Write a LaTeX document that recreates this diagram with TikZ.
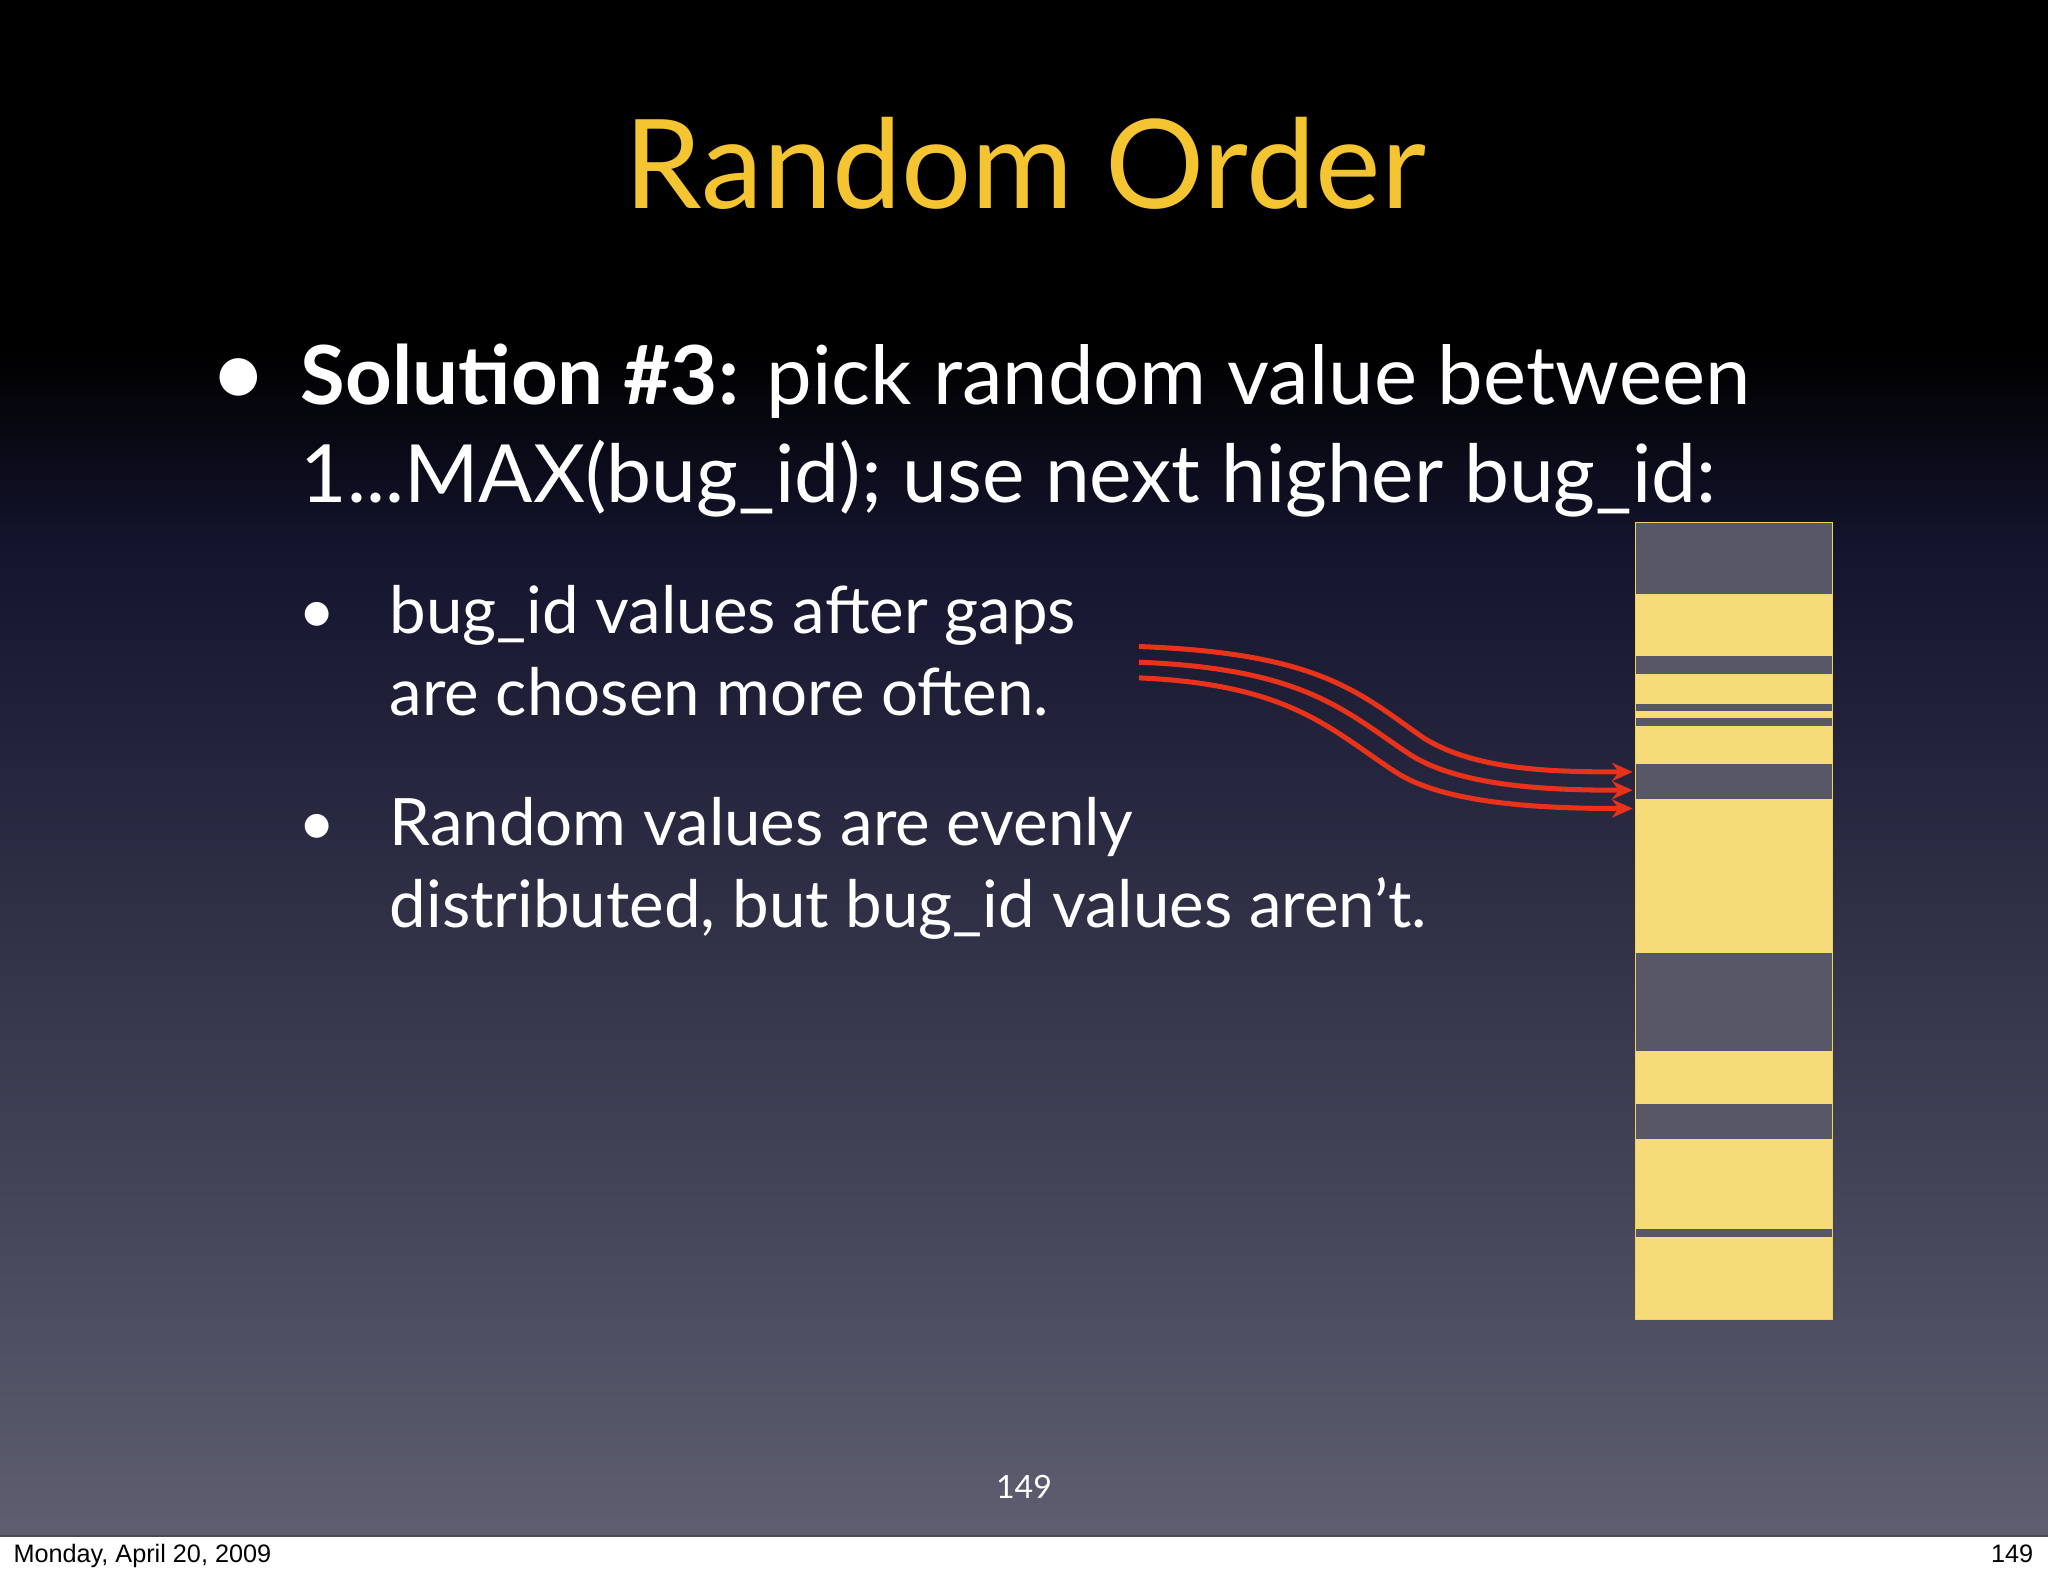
\documentclass[tikz,border=0pt]{standalone}
\usepackage{fontspec}
\setmainfont{Lato}
\newfontfamily\footfont{Liberation Sans}
\usetikzlibrary{arrows.meta}
\definecolor{ttl}{HTML}{F5C431}
\definecolor{barY}{HTML}{F5DC78}
\definecolor{barG}{HTML}{575766}
\definecolor{bgB}{HTML}{5E5E70}
\definecolor{bgM}{HTML}{14142E}
\definecolor{arr}{HTML}{E8321A}
\tikzset{
 txt/.style={text=white,anchor=base west,inner sep=0},
 stripe/.style={fill=barG,draw=none},
 redarrow/.style={draw=arr,line width=2.2pt,-{Stealth[length=9pt,width=8pt]}}
}
\begin{document}
\begin{tikzpicture}[x=0.02cm,y=-0.02cm]
\useasboundingbox (0,0) rectangle (1568,1207);
\fill[black] (0,0) rectangle (1568,270);
\shade[top color=black,bottom color=bgM] (0,269) rectangle (1568,420);
\shade[top color=bgM,bottom color=bgB] (0,419) rectangle (1568,1176);
\fill[white] (0,1176) rectangle (1568,1207);
\draw[black!70,line width=0.6pt] (0,1176)--(1568,1176);
\node[anchor=base west,inner sep=0,font=\footfont\fontsize{11}{13}\selectfont] (date) at (10,1196) {Monday, April 20, 2009};
\node[anchor=base east,inner sep=0,font=\footfont\fontsize{11}{13}\selectfont] (pg) at (1557,1196) {149};
\node[anchor=base,inner sep=0,text=ttl,font=\fontsize{54}{58}\selectfont] (title) at (785,160) {Random Order};
\node[txt,font=\fontsize{44}{40}\selectfont] (b1) at (160,312) {\textbullet};
\node[txt,font=\fontsize{35.5}{40}\selectfont] (l1) at (230,310) {\textbf{Solution \#3:} pick random value between};
\node[txt,font=\fontsize{35}{40}\selectfont] (l2) at (230,385) {1...MAX(bug\_id); use next higher bug\_id:};
\node[txt,font=\fontsize{28}{30}\selectfont] (b2) at (228,485) {\textbullet};
\node[txt,font=\fontsize{28.5}{30}\selectfont] (s1) at (298,485) {bug\_id values after gaps};
\node[txt,font=\fontsize{28.5}{30}\selectfont] (s2) at (298,548) {are chosen more often.};
\node[txt,font=\fontsize{28}{30}\selectfont] (b3) at (228,647) {\textbullet};
\node[txt,font=\fontsize{28.5}{30}\selectfont] (s3) at (298,647) {Random values are evenly};
\node[txt,font=\fontsize{28.5}{30}\selectfont] (s4) at (298,710) {distributed, but bug\_id values aren’t.};
\node[anchor=base,inner sep=0,text=white,font=\fontsize{14}{16}\selectfont] (num) at (784,1147) {149};
% bar
\fill[barY] (1252,400) rectangle (1403,1010);
\foreach \a/\b in {400/455,502/516,539/544,550/556,585/612,730/805,845/872,941/947}
  \fill[stripe] (1252,\a) rectangle (1403,\b);
\draw[ttl!80,line width=0.6pt] (1252,400) rectangle (1403,1010);
% arrows
\coordinate (a1) at (872,495); \coordinate (a2) at (872,507); \coordinate (a3) at (872,519);
\coordinate (t1) at (1250,591); \coordinate (t2) at (1250,605); \coordinate (t3) at (1250,619);
\draw[redarrow] (a1) .. controls (1010,500) and (1040,530) .. (1090,565) .. controls (1130,590) and (1190,591) .. (t1);
\draw[redarrow] (a2) .. controls (1000,512) and (1030,545) .. (1080,578) .. controls (1120,603) and (1190,605) .. (t2);
\draw[redarrow] (a3) .. controls (990,524) and (1020,560) .. (1070,592) .. controls (1110,617) and (1190,619) .. (t3);
\end{tikzpicture}
\end{document}
